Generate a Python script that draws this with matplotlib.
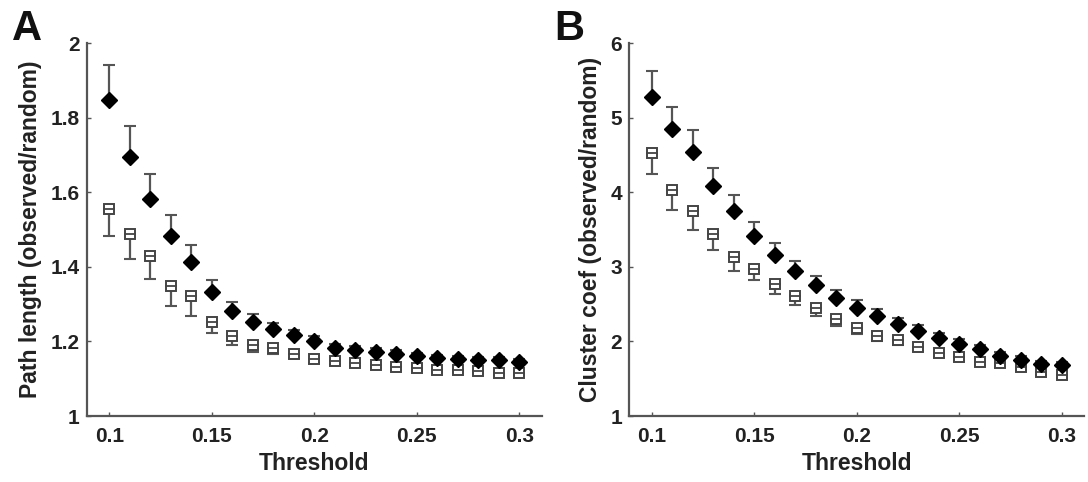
import matplotlib
matplotlib.use("Agg")
import matplotlib.pyplot as plt
import numpy as np

plt.rcParams['font.family'] = ['Liberation Sans', 'DejaVu Sans']
plt.rcParams['font.weight'] = 'bold'

thresholds = [0.10, 0.11, 0.12, 0.13, 0.14, 0.15, 0.16, 0.17, 0.18, 0.19, 0.20,
              0.21, 0.22, 0.23, 0.24, 0.25, 0.26, 0.27, 0.28, 0.29, 0.30]

# Panel A: path length (observed/random)
path_filled = [1.848, 1.694, 1.583, 1.482, 1.412, 1.333, 1.283, 1.253, 1.233, 1.218, 1.202,
               1.182, 1.177, 1.173, 1.167, 1.161, 1.155, 1.153, 1.150, 1.150, 1.146]
path_filled_err = [0.095, 0.083, 0.067, 0.056, 0.046, 0.032, 0.024, 0.020, 0.016, 0.014, 0.012,
                   0.011, 0.010, 0.009, 0.009, 0.008, 0.008, 0.007, 0.007, 0.007, 0.006]
path_open = [1.556, 1.489, 1.430, 1.350, 1.321, 1.253, 1.215, 1.191, 1.182, 1.167, 1.153,
             1.148, 1.142, 1.137, 1.131, 1.128, 1.124, 1.124, 1.122, 1.116, 1.115]
path_open_err = [0.072, 0.068, 0.062, 0.056, 0.052, 0.030, 0.025, 0.018, 0.015, 0.012, 0.010,
                 0.009, 0.008, 0.008, 0.007, 0.007, 0.006, 0.006, 0.006, 0.005, 0.005]

# Panel B: cluster coefficient (observed/random)
clus_filled = [5.283, 4.844, 4.539, 4.082, 3.751, 3.419, 3.164, 2.940, 2.761, 2.582, 2.452,
               2.340, 2.230, 2.140, 2.044, 1.968, 1.896, 1.806, 1.753, 1.699, 1.685]
clus_filled_err = [0.34, 0.305, 0.30, 0.25, 0.22, 0.19, 0.157, 0.135, 0.12, 0.11, 0.10,
                   0.09, 0.08, 0.075, 0.07, 0.06, 0.055, 0.05, 0.05, 0.045, 0.045]
clus_open = [4.531, 4.038, 3.755, 3.442, 3.133, 2.971, 2.770, 2.613, 2.448, 2.300, 2.179,
             2.075, 2.020, 1.930, 1.843, 1.789, 1.730, 1.708, 1.663, 1.595, 1.551]
clus_open_err = [0.28, 0.27, 0.255, 0.21, 0.184, 0.15, 0.14, 0.12, 0.10, 0.09, 0.08,
                 0.07, 0.065, 0.06, 0.055, 0.05, 0.05, 0.045, 0.04, 0.04, 0.04]

panels = [
    dict(letter='A', filled=path_filled, ferr=path_filled_err, opn=path_open, oerr=path_open_err,
         ylim=(1, 2), yticks=[1, 1.2, 1.4, 1.6, 1.8, 2], yticklabels=['1', '1.2', '1.4', '1.6', '1.8', '2'],
         ylabel='Path length (observed/random)'),
    dict(letter='B', filled=clus_filled, ferr=clus_filled_err, opn=clus_open, oerr=clus_open_err,
         ylim=(1, 6), yticks=[1, 2, 3, 4, 5, 6], yticklabels=['1', '2', '3', '4', '5', '6'],
         ylabel='Cluster coef (observed/random)'),
]

xticks = [0.1, 0.15, 0.2, 0.25, 0.3]
xticklabels = ['0.1', '0.15', '0.2', '0.25', '0.3']

fig = plt.figure(figsize=(10.88, 4.82), dpi=100)
lefts = [86.7 / 1088, 629.3 / 1088]
W = 1088.0
H = 482.0
spine_col = '#555555'
err_col = '#555555'

for p, left in zip(panels, lefts):
    ax = fig.add_axes([left, 66 / H, 455 / W, (416 - 43.3) / H])
    x = np.array(thresholds)
    f = np.array(p['filled'])
    fe = np.array(p['ferr'])
    o = np.array(p['opn'])
    oe = np.array(p['oerr'])
    # error bars: filled upward, open downward
    ax.errorbar(x, f, yerr=[np.zeros_like(fe), fe], fmt='none', ecolor=err_col,
                elinewidth=1.6, capsize=4, capthick=1.5, zorder=2)
    ax.errorbar(x, o, yerr=[oe, np.zeros_like(oe)], fmt='none', ecolor=err_col,
                elinewidth=1.6, capsize=4, capthick=1.5, zorder=2)
    ax.plot(x, o, linestyle='none', marker='s', markersize=7.8, markerfacecolor='white',
            markeredgecolor='#444444', markeredgewidth=1.4, zorder=3)
    ax.plot(x, o, linestyle='none', marker='_', markersize=6.5, markeredgecolor='#444444',
            markeredgewidth=1.3, zorder=4)
    ax.plot(x, f, linestyle='none', marker='D', markersize=8, markerfacecolor='black',
            markeredgecolor='black', zorder=5)

    ax.set_xlim(0.089, 0.311)
    ax.set_ylim(*p['ylim'])
    ax.set_xticks(xticks)
    ax.set_xticklabels(xticklabels)
    ax.set_yticks(p['yticks'])
    ax.set_yticklabels(p['yticklabels'])
    for s in ['top', 'right']:
        ax.spines[s].set_visible(False)
    for s in ['left', 'bottom']:
        ax.spines[s].set_color(spine_col)
        ax.spines[s].set_linewidth(1.6)
    ax.tick_params(direction='in', length=3, width=1, color=spine_col,
                   labelsize=15, labelcolor='#222222')
    ax.tick_params(axis='x', pad=8)
    ax.tick_params(axis='y', pad=5)
    for lab in ax.get_xticklabels() + ax.get_yticklabels():
        lab.set_fontweight('bold')
    ax.set_xlabel('Threshold', fontsize=16.5, fontweight='bold', color='#222222', labelpad=4)
    ax.set_ylabel(p['ylabel'], fontsize=16.5, fontweight='bold', color='#222222', labelpad=6)
    fig.text(left - 75 / W, 1 - 40 / H, p['letter'], fontsize=30, fontweight='bold',
             color='#111111', ha='left', va='baseline')

fig.savefig('out.png', dpi=100)
